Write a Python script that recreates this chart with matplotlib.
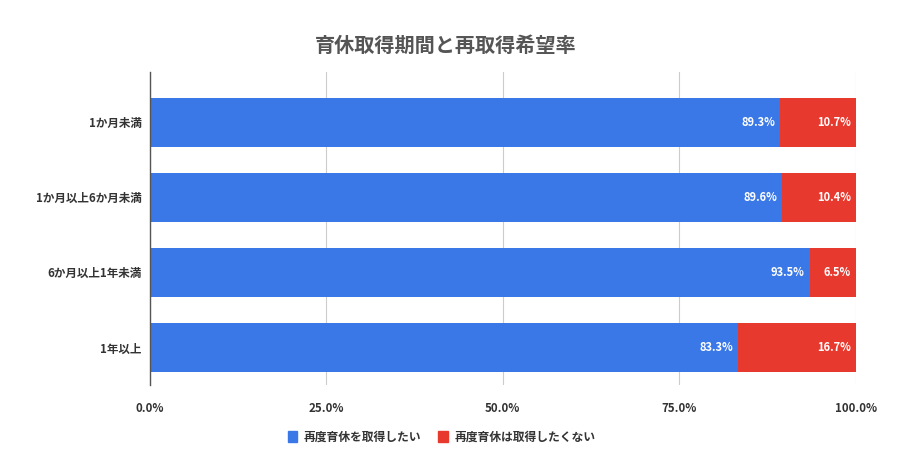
import matplotlib.pyplot as plt
from matplotlib.patches import Patch

plt.rcParams["font.family"] = ["Noto Sans CJK JP", "DejaVu Sans"]

# データ
categories = ["1か月未満", "1か月以上6か月未満", "6か月以上1年未満", "1年以上"]
want_again = [89.3, 89.6, 93.5, 83.3]
not_again = [10.7, 10.4, 6.5, 16.7]
series_names = ["再度育休を取得したい", "再度育休は取得したくない"]
xticks = [0, 25, 50, 75, 100]

BLUE = "#3b78e7"
RED = "#e8392f"
TEXT = "#333333"

fig = plt.figure(figsize=(9.2, 4.7), dpi=100)
ax = fig.add_axes([0.163, 0.181, 0.767, 0.666])

y = range(len(categories))
ax.barh(y, want_again, height=0.65, color=BLUE, zorder=2)
ax.barh(y, not_again, left=want_again, height=0.65, color=RED, zorder=2)

for i, (a, b) in enumerate(zip(want_again, not_again)):
    ax.text(a - 0.7, i, f"{a:.1f}%", color="white", fontsize=8, fontweight="bold",
            ha="right", va="center", zorder=3)
    ax.text(a + b - 0.7, i, f"{b:.1f}%", color="white", fontsize=8, fontweight="bold",
            ha="right", va="center", zorder=3)

ax.set_ylim(3.5, -0.67)
ax.set_xlim(0, 100)
ax.set_yticks(list(y))
ax.set_yticklabels(categories, fontsize=8.3, color=TEXT, fontweight="bold")
ax.set_xticks(xticks)
ax.set_xticklabels([f"{v:.1f}%" for v in xticks], fontsize=8.3, color=TEXT,
                   fontweight="bold")
ax.tick_params(length=0, pad=6)
ax.tick_params(axis="x", pad=12)

ax.grid(axis="x", color="#cccccc", linewidth=0.8, zorder=0)
for s in ["top", "right", "bottom"]:
    ax.spines[s].set_visible(False)
ax.spines["left"].set_color("#555555")
ax.spines["left"].set_linewidth(1)
ax.spines["left"].set_zorder(4)

fig.text(0.484, 0.903, "育休取得期間と再取得希望率", fontsize=14.5, fontweight="bold",
         color="#555555", ha="center", va="center")

handles = [Patch(color=BLUE), Patch(color=RED)]
fig.legend(handles, series_names, loc="center", bbox_to_anchor=(0.48, 0.07),
           ncol=2, frameon=False, fontsize=8.5, handlelength=0.8, handleheight=1.1,
           handletextpad=0.6, columnspacing=1.4, labelcolor=TEXT,
           prop={"weight": "bold", "size": 8.5})

fig.savefig("out.png", dpi=100, facecolor="white")
